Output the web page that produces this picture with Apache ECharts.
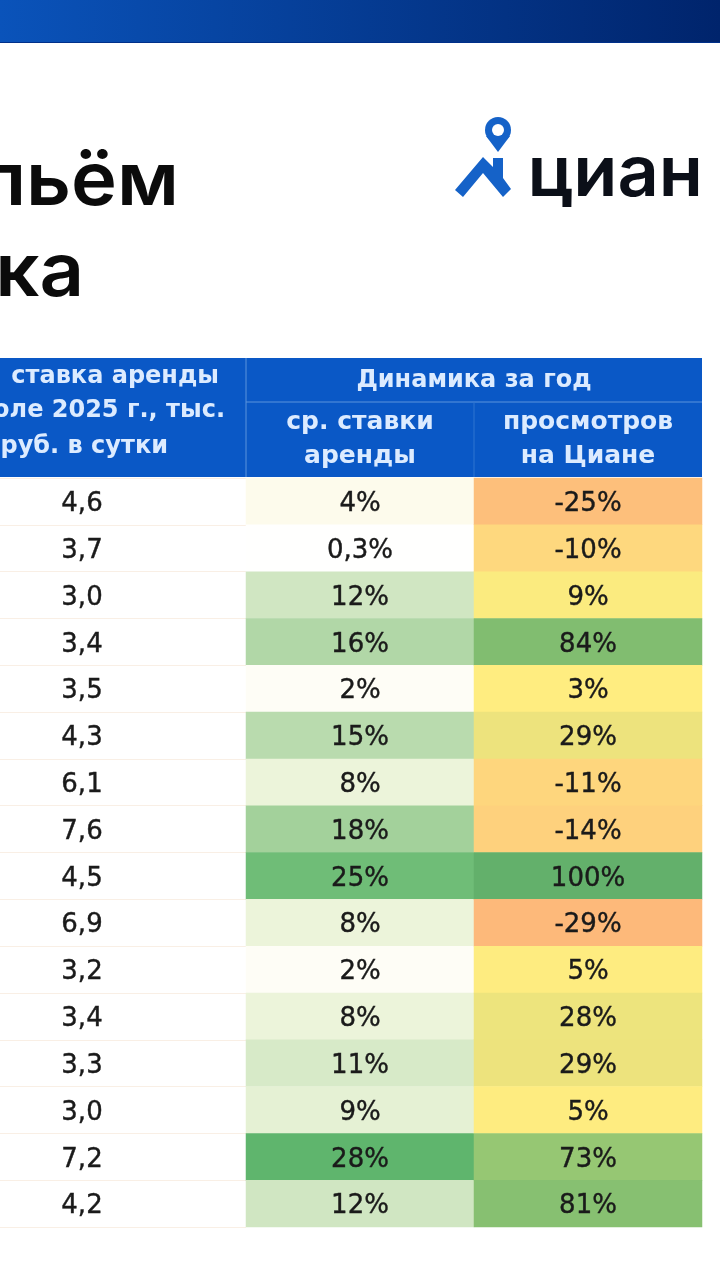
<!DOCTYPE html>
<html>
<head>
<meta charset="utf-8">
<style>
  html, body { margin: 0; padding: 0; background: #fff; }
  #chart { width: 720px; height: 1280px; }
</style>
<script src="https://cdn.jsdelivr.net/npm/echarts@6/dist/echarts.min.js"></script>
</head>
<body>
<div id="chart"></div>
<script>
// строки таблицы (названия городов обрезаны на картинке)
var rows = ['1','2','3','4','5','6','7','8','9','10','11','12','13','14','15','16'];
var rentRate = [4.6, 3.7, 3.0, 3.4, 3.5, 4.3, 6.1, 7.6, 4.5, 6.9, 3.2, 3.4, 3.3, 3.0, 7.2, 4.2];
var rentChange = [4, 0.3, 12, 16, 2, 15, 8, 18, 25, 8, 2, 8, 11, 9, 28, 12];
var viewsChange = [-25, -10, 9, 84, 3, 29, -11, -14, 100, -29, 5, 28, 29, 5, 73, 81];
var changeColumns = ['ср. ставки\nаренды', 'просмотров\nна Циане'];

var font = 'DejaVu Sans';
var blue = '#0a58c6';
var headText = '#dcebff';

var chart = echarts.init(document.getElementById('chart'));

function cells(x, values) {
  return values.map(function (v, i) { return [x, i, v]; });
}
function comma(v) {
  return String(v).replace('.', ',');
}
function cellLabel(formatter) {
  return {
    show: true,
    position: 'inside',
    offset: [0, 3],
    fontFamily: font,
    fontSize: 26,
    color: '#1a1a1a',
    textBorderColor: '#1a1a1a',
    textBorderWidth: 0.4,
    formatter: function (p) { return formatter(p.value[2]); }
  };
}
function rowAxis(gridIndex, showLines) {
  return {
    type: 'category',
    gridIndex: gridIndex,
    data: rows,
    inverse: true,
    axisLine: { show: false },
    axisTick: { show: false },
    axisLabel: { show: false },
    splitLine: { show: showLines, lineStyle: { color: '#f9efe5', width: 1 } }
  };
}
function headLine(x, y, text, align) {
  return {
    type: 'text', z: 5,
    style: { x: x, y: y, text: text, textAlign: align || 'right', textVerticalAlign: 'middle', font: 'bold 24px "DejaVu Sans"', fill: headText }
  };
}
// крупный текст шире обычного шрифта, поэтому растягиваем по x
function bigText(x, y, text, font, fill, scaleX) {
  return {
    type: 'text', z: 5, x: x, y: y, scaleX: scaleX,
    style: { x: 0, y: 0, text: text, textAlign: 'right', textVerticalAlign: 'bottom', font: font, fill: fill }
  };
}

var option = {
  animation: false,
  backgroundColor: '#ffffff',
  // подложки и шапка, не данные
  graphic: [
    {
      type: 'rect', z: -10, silent: true,
      shape: { x: 0, y: 0, width: 720, height: 43 },
      style: {
        fill: new echarts.graphic.LinearGradient(0, 0, 1, 0, [
          { offset: 0, color: '#0a53ba' },
          { offset: 1, color: '#00246c' }
        ])
      }
    },
    { type: 'line', z: -9, silent: true, shape: { x1: 0, y1: 42.5, x2: 720, y2: 42.5 }, style: { stroke: '#00308a', lineWidth: 1 } },
    { type: 'rect', z: -10, silent: true, shape: { x: 0, y: 358, width: 702, height: 119 }, style: { fill: blue } },
    { type: 'line', z: -9, silent: true, shape: { x1: 246, y1: 358, x2: 246, y2: 477 }, style: { stroke: '#5b93dc', lineWidth: 1 } },
    { type: 'line', z: -9, silent: true, shape: { x1: 246, y1: 402, x2: 702, y2: 402 }, style: { stroke: '#5b93dc', lineWidth: 1 } },
    { type: 'line', z: -9, silent: true, shape: { x1: 474, y1: 402, x2: 474, y2: 477 }, style: { stroke: '#2f74d0', lineWidth: 1 } },
    // заголовок
    bigText(179, 220, 'льём', '600 74px Inter', '#0b0b0b', 1.05),
    bigText(84, 311, 'ка', '600 74px Inter', '#0b0b0b', 1.05),
    // логотип
    bigText(703, 210, 'циан', '600 70px Inter', '#0b0f18', 1.03),
    { type: 'circle', z: 5, shape: { cx: 498, cy: 130, r: 13 }, style: { fill: '#1562c8' } },
    { type: 'polygon', z: 5, shape: { points: [[486, 136], [510, 136], [498, 152]] }, style: { fill: '#1562c8' } },
    { type: 'circle', z: 6, shape: { cx: 498, cy: 130, r: 6 }, style: { fill: '#fff' } },
    {
      type: 'polygon', z: 5,
      shape: { points: [[455, 190], [483, 157], [493, 167], [493, 158], [503, 158], [503, 178], [511, 189], [503, 197], [483, 173], [463, 197]] },
      style: { fill: '#1562c8' }
    },
    // шапка таблицы
    headLine(219, 377, 'ставка аренды'),
    headLine(225, 411, 'оле 2025 г., тыс.'),
    headLine(168, 447, 'руб. в сутки'),
    headLine(474, 381, 'Динамика за год', 'center')
  ],
  grid: [
    { left: 0, top: 478, width: 246, height: 749 },
    { left: 246, top: 478, width: 456, height: 749 }
  ],
  xAxis: [
    {
      type: 'value', gridIndex: 0, min: 0, max: 3,
      axisLine: { show: false }, axisTick: { show: false }, axisLabel: { show: false }, splitLine: { show: false }
    },
    {
      type: 'category', gridIndex: 1, data: changeColumns, position: 'top',
      axisLine: { show: false }, axisTick: { show: false },
      axisLabel: { interval: 0, margin: 5, fontFamily: font, fontWeight: 'bold', fontSize: 25, lineHeight: 34, color: headText }
    }
  ],
  yAxis: [rowAxis(0, true), rowAxis(1, false)],
  visualMap: [
    {
      show: false, type: 'continuous', seriesIndex: 1, dimension: 2, min: 0, max: 28,
      inRange: { color: ['#ffffff', '#fdfbec', '#ecf4da', '#d0e6c2', '#b1d7a7', '#95cb8f', '#74bf7a', '#5fb56d'] }
    },
    {
      show: false, type: 'continuous', seriesIndex: 2, dimension: 2, min: -29, max: 100,
      inRange: { color: ['#fdb97a', '#ffed80', '#e8e17c', '#a0cb75', '#63b06b'] }
    }
  ],
  series: [
    {
      type: 'scatter', xAxisIndex: 0, yAxisIndex: 0,
      data: cells(1, rentRate),
      symbolSize: 1,
      itemStyle: { color: 'rgba(0,0,0,0)', opacity: 1 },
      label: cellLabel(function (v) { return v.toFixed(1).replace('.', ','); })
    },
    {
      type: 'heatmap', xAxisIndex: 1, yAxisIndex: 1,
      data: cells(0, rentChange),
      label: cellLabel(function (v) { return comma(v) + '%'; })
    },
    {
      type: 'heatmap', xAxisIndex: 1, yAxisIndex: 1,
      data: cells(1, viewsChange),
      label: cellLabel(function (v) { return comma(v) + '%'; })
    }
  ]
};

chart.setOption(option);
</script>
</body>
</html>
